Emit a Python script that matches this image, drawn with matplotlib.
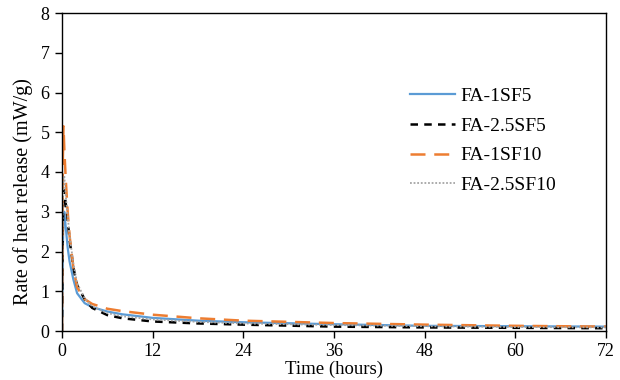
import matplotlib
matplotlib.use("Agg")
import matplotlib.pyplot as plt

time_h = [0, 0.1, 0.2, 0.3, 0.5, 0.75, 1, 1.5, 2, 3, 4, 6, 8, 12, 18, 24, 36, 48, 60, 72]
fa_1sf5 = [0, 2.0, 2.9, 3.0, 2.6, 2.1, 1.75, 1.3, 0.95, 0.7, 0.6, 0.49, 0.42, 0.33, 0.26, 0.22, 0.17, 0.13, 0.12, 0.11]
fa_25sf5 = [0, 2.5, 3.55, 3.5, 3.2, 2.8, 2.3, 1.6, 1.15, 0.8, 0.58, 0.4, 0.32, 0.24, 0.19, 0.16, 0.11, 0.09, 0.08, 0.07]
fa_1sf10 = [0, 4.2, 5.15, 4.6, 3.8, 3.0, 2.4, 1.6, 1.1, 0.8, 0.68, 0.56, 0.5, 0.41, 0.32, 0.26, 0.2, 0.16, 0.13, 0.11]
fa_25sf10 = [0, 3.0, 3.85, 3.9, 3.4, 2.9, 2.4, 1.7, 1.2, 0.82, 0.62, 0.45, 0.37, 0.29, 0.23, 0.19, 0.15, 0.12, 0.1, 0.09]

labels = ["FA-1SF5", "FA-2.5SF5", "FA-1SF10", "FA-2.5SF10"]
x_ticks = [0, 12, 24, 36, 48, 60, 72]
y_ticks = [0, 1, 2, 3, 4, 5, 6, 7, 8]

plt.rcParams['font.family'] = ['Liberation Serif', 'DejaVu Serif']

fig = plt.figure(figsize=(6.2, 3.8), dpi=100)
ax = fig.add_axes([62/620, 49/380, 544/620, 318/380])

ax.plot(time_h, fa_1sf5, color='#5B9BD5', lw=1.6, label=labels[0])
ax.plot(time_h, fa_25sf5, color='black', lw=1.8, ls=(0, (3, 2.5)), label=labels[1])
ax.plot(time_h, fa_1sf10, color='#ED7D31', lw=1.8, ls=(0, (6, 3.5)), label=labels[2])
ax.plot(time_h, fa_25sf10, color='#A5A5A5', lw=1.3, ls=(0, (1, 1)), label=labels[3])

ax.set_xlim(0, 72)
ax.set_ylim(0, 8)
ax.set_xticks(x_ticks)
ax.set_yticks(y_ticks)
ax.tick_params(direction='out', length=5, width=1, labelsize=13)
ax.tick_params(axis='x', pad=4)
ax.tick_params(axis='y', pad=4)
for s in ax.spines.values():
    s.set_linewidth(1.0)
ax.set_xlabel("Time (hours)", fontsize=13.5)
ax.xaxis.set_label_coords(0.5, -0.093)
ax.set_ylabel("Rate of heat release (mW/g)", fontsize=14.5)
ax.yaxis.set_label_coords(-0.053, 0.44)

ax.legend(loc='upper left', bbox_to_anchor=(0.64, 0.767), frameon=False, fontsize=14,
          handlelength=2.32, handletextpad=0.25, labelspacing=0.63, borderpad=0, borderaxespad=0)

fig.savefig("out.png", dpi=100)
